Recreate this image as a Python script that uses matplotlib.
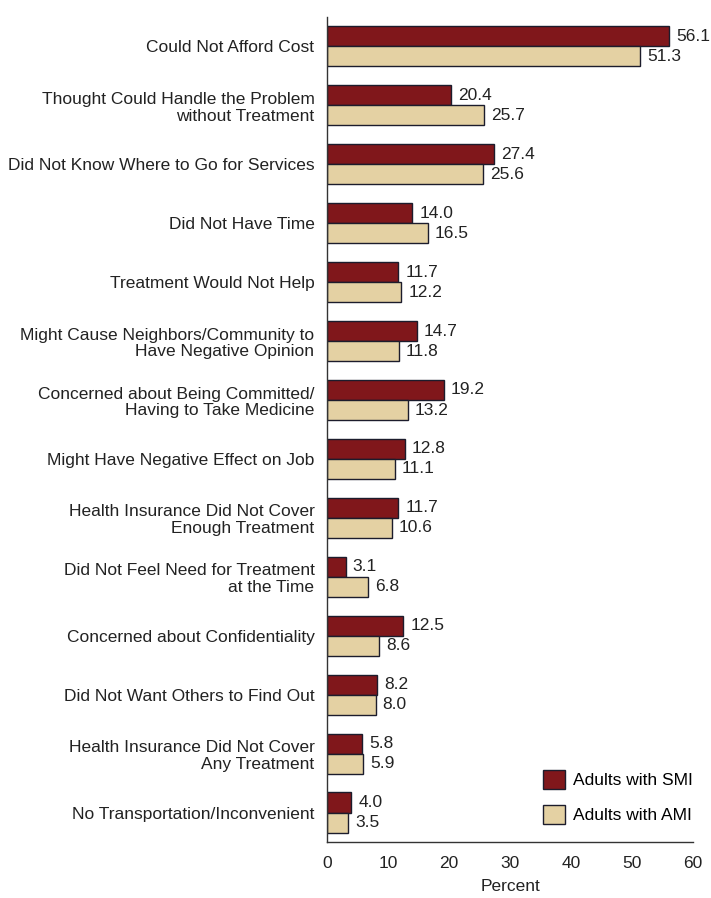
import matplotlib
matplotlib.use("Agg")
import matplotlib.pyplot as plt
import numpy as np
from matplotlib.patches import Patch

plt.rcParams['font.family'] = ['Liberation Sans', 'DejaVu Sans']

reasons = [
    "Could Not Afford Cost",
    "Thought Could Handle the Problem\nwithout Treatment",
    "Did Not Know Where to Go for Services",
    "Did Not Have Time",
    "Treatment Would Not Help",
    "Might Cause Neighbors/Community to\nHave Negative Opinion",
    "Concerned about Being Committed/\nHaving to Take Medicine",
    "Might Have Negative Effect on Job",
    "Health Insurance Did Not Cover\nEnough Treatment",
    "Did Not Feel Need for Treatment\nat the Time",
    "Concerned about Confidentiality",
    "Did Not Want Others to Find Out",
    "Health Insurance Did Not Cover\nAny Treatment",
    "No Transportation/Inconvenient",
]
smi = [56.1, 20.4, 27.4, 14.0, 11.7, 14.7, 19.2, 12.8, 11.7, 3.1, 12.5, 8.2, 5.8, 4.0]
ami = [51.3, 25.7, 25.6, 16.5, 12.2, 11.8, 13.2, 11.1, 10.6, 6.8, 8.6, 8.0, 5.9, 3.5]
x_ticks = [0, 10, 20, 30, 40, 50, 60]

SMI_COLOR = "#80171b"
AMI_COLOR = "#e4d1a3"
EDGE = "#1c1c2c"
FS = 12.5

fig = plt.figure(figsize=(7.11, 8.98), dpi=100)
ax = fig.add_axes([0.4599, 0.0624, 0.5148, 0.9187])

y = np.arange(len(reasons))
h = 0.34
ax.barh(y - h / 2, smi, height=h, color=SMI_COLOR, edgecolor=EDGE, linewidth=1.0)
ax.barh(y + h / 2, ami, height=h, color=AMI_COLOR, edgecolor=EDGE, linewidth=1.0)

for yi, v in zip(y, smi):
    ax.annotate(f"{v:.1f}", (v, yi - h / 2), xytext=(5, 0), textcoords="offset points",
                va="center", ha="left", fontsize=FS, color="#222222")
for yi, v in zip(y, ami):
    ax.annotate(f"{v:.1f}", (v, yi + h / 2), xytext=(5, 0), textcoords="offset points",
                va="center", ha="left", fontsize=FS, color="#222222")

ax.set_xlim(0, 60)
ax.set_ylim(len(reasons) - 0.5, -0.5)
ax.set_xticks(x_ticks)
ax.set_xticklabels([str(t) for t in x_ticks], fontsize=FS, color="#222222")
ax.set_yticks(y)
ax.set_yticklabels(reasons, fontsize=FS, color="#222222", linespacing=1.15)
ax.tick_params(axis="both", length=0)
ax.tick_params(axis="y", pad=9)
ax.tick_params(axis="x", pad=10)
ax.set_xlabel("Percent", fontsize=FS, color="#222222", labelpad=6)

for side in ("top", "right"):
    ax.spines[side].set_visible(False)
for side in ("left", "bottom"):
    ax.spines[side].set_color("#333333")
    ax.spines[side].set_linewidth(1.0)

handles = [
    Patch(facecolor=SMI_COLOR, edgecolor=EDGE, label="Adults with SMI"),
    Patch(facecolor=AMI_COLOR, edgecolor=EDGE, label="Adults with AMI"),
]
ax.legend(handles=handles, loc="lower right", bbox_to_anchor=(1.0, 0.022), frameon=False,
          fontsize=FS, handlelength=1.27, handleheight=1.27, labelspacing=0.95,
          handletextpad=0.45, borderpad=0, borderaxespad=0)

fig.savefig("out.png", dpi=100)
